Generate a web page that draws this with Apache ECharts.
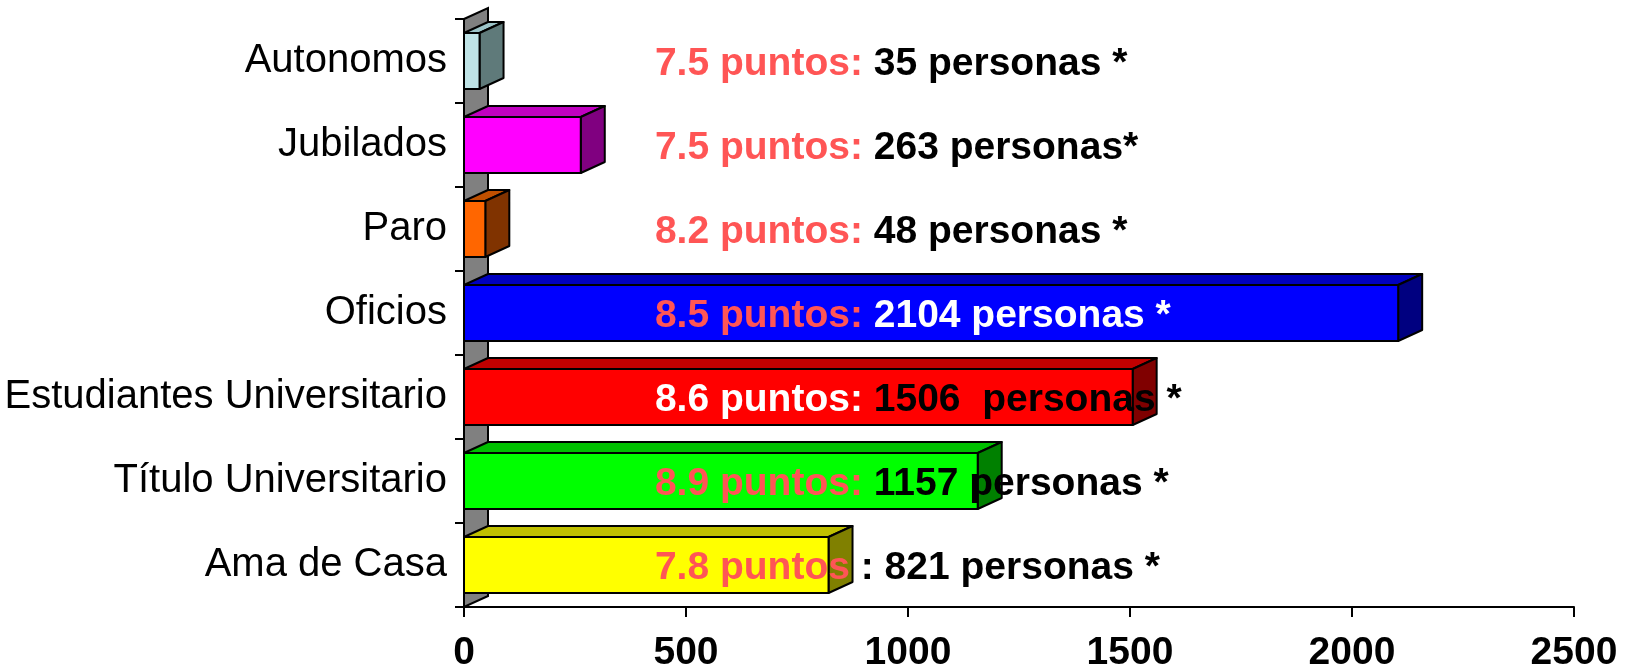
<!DOCTYPE html>
<html>
<head>
<meta charset="utf-8">
<script src="https://cdn.jsdelivr.net/npm/echarts@6/dist/echarts.min.js"></script>
<style>
  html, body { margin: 0; padding: 0; background: #fff; }
  #chart { width: 1626px; height: 667px; }
</style>
</head>
<body>
<div id="chart"></div>
<script>
// categorias de abajo hacia arriba
var categorias = ['Ama de Casa', 'Título Universitario', 'Estudiantes Universitario', 'Oficios', 'Paro', 'Jubilados', 'Autonomos'];
var personas = [821, 1157, 1506, 2104, 48, 263, 35];
var puntos = ['7.8 puntos', '8.9 puntos:', '8.6 puntos:', '8.5 puntos:', '8.2 puntos:', '7.5 puntos:', '7.5 puntos:'];
var textoPersonas = [' : 821 personas *', ' 1157 personas *', ' 1506  personas *', ' 2104 personas *', ' 48 personas *', ' 263 personas*', ' 35 personas *'];
var xTicks = [0, 500, 1000, 1500, 2000, 2500];
var labelAt = 430; // donde empieza el texto (valor del eje)

// colores: frente, arriba, lado
var colores = [
    ['#ffff00', '#c0c000', '#808000'],
    ['#00ff00', '#00c000', '#008000'],
    ['#ff0000', '#c00000', '#800000'],
    ['#0000ff', '#0000c0', '#000080'],
    ['#ff6600', '#c05000', '#803300'],
    ['#ff00ff', '#c000c0', '#800080'],
    ['#bfe3e6', '#9cc4c8', '#5f7a7a']
];
// color de "x puntos" y del resto del texto
var colorPuntos = ['#ff5555', '#ff5555', '#ffffff', '#ff5555', '#ff5555', '#ff5555', '#ff5555'];
var colorResto = ['#000', '#000', '#000', '#fff', '#000', '#000', '#000'];

var DX = 24, DY = -11; // profundidad 3d

var myChart = echarts.init(document.getElementById('chart'));

function renderWall(params, api) {
    var p0 = api.coord([0, 0]);
    var band = api.size([0, 1])[1];
    var n = categorias.length;
    var x0 = p0[0];
    var yBot = p0[1] + band / 2;
    var yTop = yBot - band * n;
    return {
        type: 'polygon',
        shape: { points: [[x0, yBot], [x0, yTop], [x0 + DX, yTop + DY], [x0 + DX, yBot + DY]] },
        style: { fill: '#808080', stroke: '#000', lineWidth: 2 }
    };
}

function renderBar(params, api) {
    var idx = api.value(0);
    var val = api.value(1);
    var start = api.coord([0, idx]);
    var end = api.coord([val, idx]);
    var band = api.size([0, 1])[1];
    var h = band * 2 / 3;
    var x0 = start[0], x1 = end[0];
    var yT = start[1] - h / 2, yB = start[1] + h / 2;
    var c = colores[idx];
    var st = { stroke: '#000', lineWidth: 2, lineJoin: 'round' };
    return {
        type: 'group',
        children: [
            { type: 'polygon', shape: { points: [[x0, yT], [x0 + DX, yT + DY], [x1 + DX, yT + DY], [x1, yT]] },
              style: Object.assign({ fill: c[1] }, st) },
            { type: 'polygon', shape: { points: [[x1, yT], [x1 + DX, yT + DY], [x1 + DX, yB + DY], [x1, yB]] },
              style: Object.assign({ fill: c[2] }, st) },
            { type: 'rect', shape: { x: x0, y: yT, width: x1 - x0, height: h },
              style: Object.assign({ fill: c[0] }, st) }
        ]
    };
}

function renderLabel(params, api) {
    var idx = api.value(0);
    var p = api.coord([labelAt, idx]);
    return {
        type: 'text',
        x: p[0],
        y: p[1] + 3,
        style: {
            text: '{a|' + puntos[idx] + '}{b|' + textoPersonas[idx] + '}',
            verticalAlign: 'middle',
            align: 'left',
            rich: {
                a: { fontFamily: 'Liberation Sans, Arial', fontWeight: 'bold', fontSize: 39, fill: colorPuntos[idx] },
                b: { fontFamily: 'Liberation Sans, Arial', fontWeight: 'bold', fontSize: 39, fill: colorResto[idx] }
            }
        }
    };
}

var barData = categorias.map(function (c, i) { return [i, personas[i]]; });
var labelData = categorias.map(function (c, i) { return [i]; });

var option = {
    animation: false,
    grid: { left: 464, right: 52, top: 19, bottom: 60, outerBoundsMode: 'none' },
    xAxis: {
        type: 'value',
        min: xTicks[0],
        max: xTicks[xTicks.length - 1],
        interval: 500,
        splitLine: { show: false },
        axisLine: { show: true, lineStyle: { color: '#000', width: 2 } },
        axisTick: { show: true, length: 10, lineStyle: { color: '#000', width: 2 } },
        axisLabel: {
            margin: 27,
            color: '#000',
            fontFamily: 'Liberation Sans, Arial',
            fontWeight: 'bold',
            fontSize: 39,
            formatter: function (v) { return String(v); }
        }
    },
    yAxis: {
        type: 'category',
        data: categorias,
        axisLine: { show: true, lineStyle: { color: '#000', width: 2 } },
        axisTick: { show: true, length: 9, lineStyle: { color: '#000', width: 2 } },
        axisLabel: {
            margin: 17,
            color: '#000',
            fontFamily: 'Liberation Sans, Arial',
            fontSize: 40,
            padding: [7, 0, 0, 0]
        }
    },
    series: [
        { type: 'custom', name: 'pared', renderItem: renderWall, data: [[0, 0]], z: 1, silent: true },
        { type: 'custom', name: 'personas', renderItem: renderBar, data: barData, encode: { x: 1, y: 0 }, z: 2 },
        { type: 'custom', name: 'etiquetas', renderItem: renderLabel, data: labelData, encode: { y: 0 }, z: 5, silent: true }
    ]
};
myChart.setOption(option);
window.addEventListener('resize', function () {
    myChart.resize();
});
</script>
</body>
</html>
